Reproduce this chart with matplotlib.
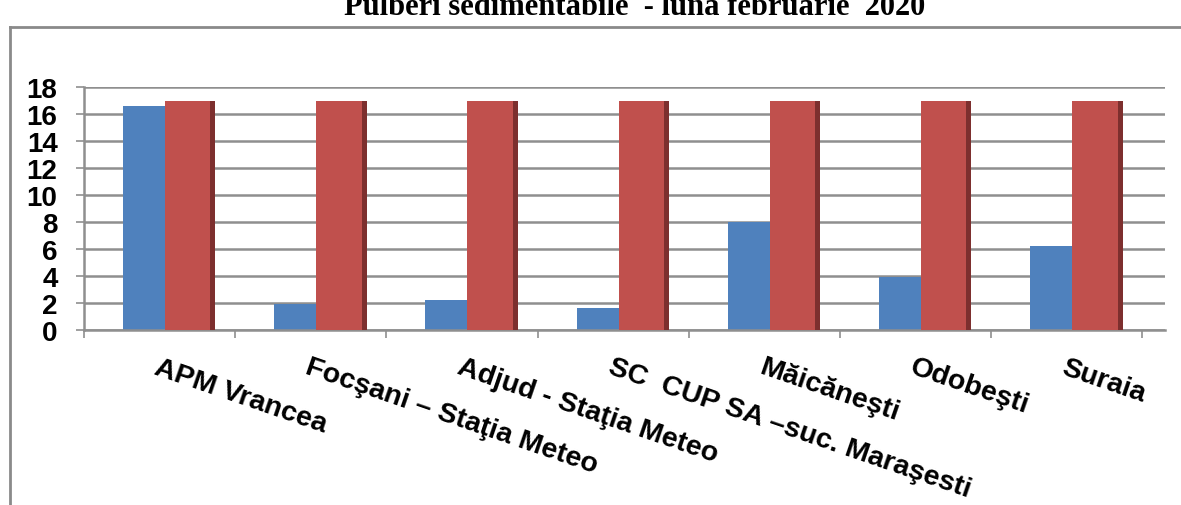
import numpy as np
import matplotlib
matplotlib.use("Agg")
import matplotlib.pyplot as plt
from matplotlib.lines import Line2D

# values
stations = ["APM Vrancea", "Focşani – Staţia Meteo", "Adjud - Staţia Meteo",
            "SC  CUP SA –suc. Maraşesti", "Măicăneşti", "Odobeşti", "Suraia"]
measured = [16.6, 1.9, 2.2, 1.6, 8.0, 3.9, 6.2]
limit = [17, 17, 17, 17, 17, 17, 17]
y_ticks = [0, 2, 4, 6, 8, 10, 12, 14, 16, 18]
title = "Pulberi sedimentabile  - luna februarie  2020"

BLUE = "#4f81bd"
RED = "#c0504d"
RED_SIDE = "#7d2f2e"
GRID = "#8f8f8f"

W, H = 1181, 506
fig = plt.figure(figsize=(W / 100, H / 100), dpi=100)
ax = fig.add_axes([84 / W, 1 - 331 / H, (1165 - 84) / W, (331 - 88) / H])

x = np.arange(len(stations))

# blue series, red series with a darker side strip (3D look)
ax.bar(x - 0.242, measured, width=0.29, align="edge", color=BLUE, zorder=2)
ax.bar(x + 0.036, limit, width=0.30, align="edge", color=RED, zorder=3)
ax.bar(x + 0.336, limit, width=0.033, align="edge", color=RED_SIDE, zorder=3)

ax.set_xlim(-0.5, 6.65)
ax.set_ylim(0, 18)

ax.set_yticks(y_ticks)
ax.set_yticklabels([str(v) for v in y_ticks], fontsize=20, fontweight="bold",
                   family="Liberation Sans")
ax.yaxis.grid(True, color=GRID, lw=1.8, zorder=0)
ax.set_axisbelow(True)

ax.set_xticks(x)
ax.set_xticklabels(stations, rotation=-19, ha="left", va="top",
                   rotation_mode="anchor", fontsize=20.5, fontweight="bold",
                   family="Liberation Sans")
ax.set_xticks(np.arange(-0.5, 7, 1), minor=True)
ax.tick_params(axis="x", which="major", length=0, pad=17)
ax.tick_params(axis="x", which="minor", length=6, color=GRID, width=1.2)
ax.tick_params(axis="y", length=6, color=GRID, width=1.2, pad=13)

for s in ["top", "right"]:
    ax.spines[s].set_visible(False)
for s in ["left", "bottom"]:
    ax.spines[s].set_color(GRID)
    ax.spines[s].set_linewidth(1.8)

# chart area border (partly visible in the reference)
fig.add_artist(Line2D([10 / W, 10 / W], [0, 1 - 28 / H], color="#8a8a8a", lw=2))
fig.add_artist(Line2D([10 / W, 1], [1 - 28 / H, 1 - 28 / H], color="#8a8a8a", lw=2))

# title, cut off at the top edge like in the reference
fig.text(635 / W, 1 - 15 / H, title, ha="center", va="baseline",
         fontsize=22, fontweight="bold", family="Liberation Serif")

fig.savefig("out.png", dpi=100)
